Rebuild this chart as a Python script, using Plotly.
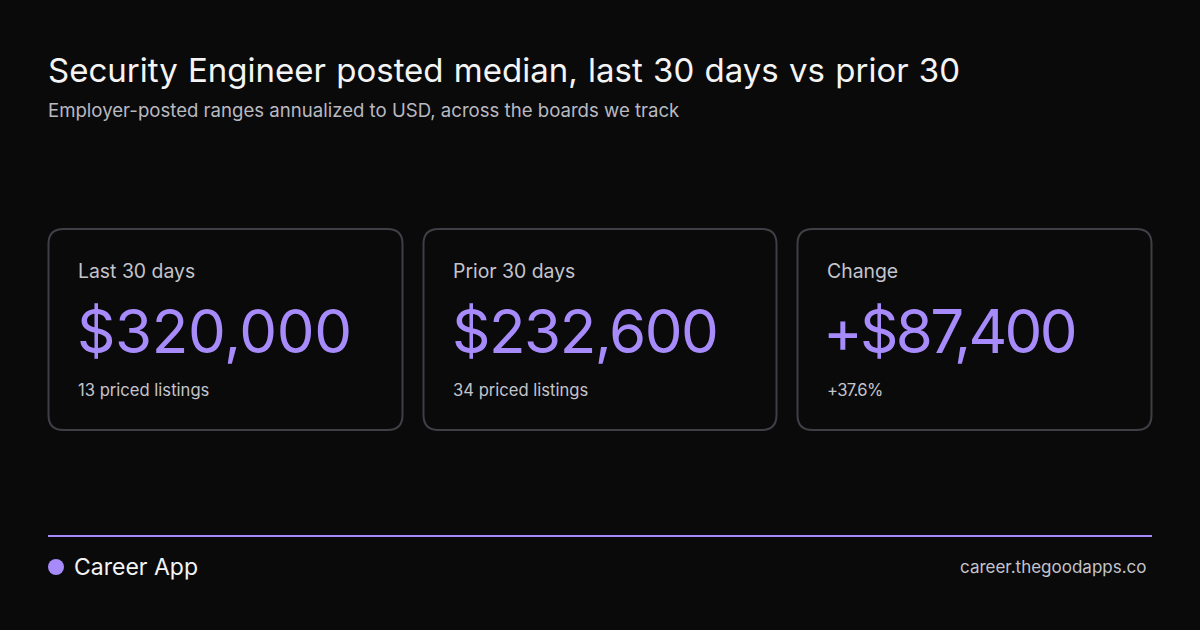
import plotly.graph_objects as go

title = "Security Engineer posted median, last 30 days vs prior 30"
subtitle = "Employer-posted ranges annualized to USD, across the boards we track"
card_labels = ["Last 30 days", "Prior 30 days", "Change"]
card_values = ["$320,000", "$232,600", "+$87,400"]
card_notes = ["13 priced listings", "34 priced listings", "+37.6%"]
brand = "Career App"
site = "career.thegoodapps.co"

FONT = "Inter"
BG = "#0a0a0b"
ACC = "#a78bfa"
card_x = [(48.5, 402.5), (423.5, 776.5), (797.5, 1151.5)]
value_spacing = ["-0.4px", "-1.5px", "-2.7px"]
value_shift = [-1, -1, -4]
R = 15

shapes = []
ann = []


def text(x, y, s, size, color, anchor="left", weight=400):
    ann.append(dict(x=x, y=y, xref="x", yref="y", text=s, showarrow=False, xanchor=anchor, yanchor="middle",
                    borderpad=0, borderwidth=0,
                    font=dict(family=FONT, size=size, color=color, weight=weight), align=anchor))


def rounded(x0, x1, y0, y1, r):
    return (f"M{x0+r},{y0} L{x1-r},{y0} Q{x1},{y0} {x1},{y0+r} L{x1},{y1-r} Q{x1},{y1} {x1-r},{y1} "
            f"L{x0+r},{y1} Q{x0},{y1} {x0},{y1-r} L{x0},{y0+r} Q{x0},{y0} {x0+r},{y0} Z")


text(48, 70, title, 33, "#f4f4f5")
text(48, 110, subtitle, 18.6, "#b9b9c0")
for (x0, x1), l, v, n, dx in zip(card_x, card_labels, card_values, card_notes, value_shift):
    shapes.append(dict(type="path", path=rounded(x0, x1, 229, 430, R), xref="x", yref="y",
                       line=dict(color="#3f3f46", width=2), fillcolor=BG))
    text(x0 + 29.5, 271, l, 19.4, "#c4c4cb")
    text(x0 + 29.5 + dx, 331, v, 60, ACC)
    text(x0 + 29.5, 390, n, 16.6, "#c4c4cb")
shapes.append(dict(type="line", x0=48, x1=1152, y0=536, y1=536, xref="x", yref="y", line=dict(color=ACC, width=2)))
shapes.append(dict(type="circle", x0=48, x1=64, y0=559, y1=575, xref="x", yref="y", line=dict(width=0), fillcolor=ACC))
text(74, 566.5, brand, 23, "#f4f4f5")
text(1147, 567, site, 17, "#c4c4cb", "right")

fig = go.Figure()
fig.add_trace(go.Scatter(x=[0, 1200], y=[0, 630], mode="markers", marker=dict(opacity=0), hoverinfo="skip", showlegend=False))
fig.update_layout(width=1200, height=630, margin=dict(l=0, r=0, t=0, b=0), paper_bgcolor=BG, plot_bgcolor=BG,
                  shapes=shapes, annotations=ann, showlegend=False,
                  xaxis=dict(range=[0, 1200], visible=False), yaxis=dict(range=[630, 0], visible=False))

spacing_js = "{" + ",".join(f'"{v}":"{s}"' for v, s in zip(card_values + ["+37.6%"], value_spacing + ["-0.6px"])) + "}"
post = """
document.documentElement.style.background = '%s';
document.body.style.margin = '0';
document.body.style.background = '%s';
var sp = %s;
function tweak() {
  document.querySelectorAll('.annotation-text').forEach(function (t) {
    if (sp[t.textContent]) t.style.letterSpacing = sp[t.textContent];
    if (t.textContent.indexOf('Security') === 0) t.style.wordSpacing = '1px';
  });
}
tweak();
setTimeout(tweak, 50);
""" % (BG, BG, spacing_js)
fig.write_html("out.html", config=dict(displayModeBar=False), post_script=post)
